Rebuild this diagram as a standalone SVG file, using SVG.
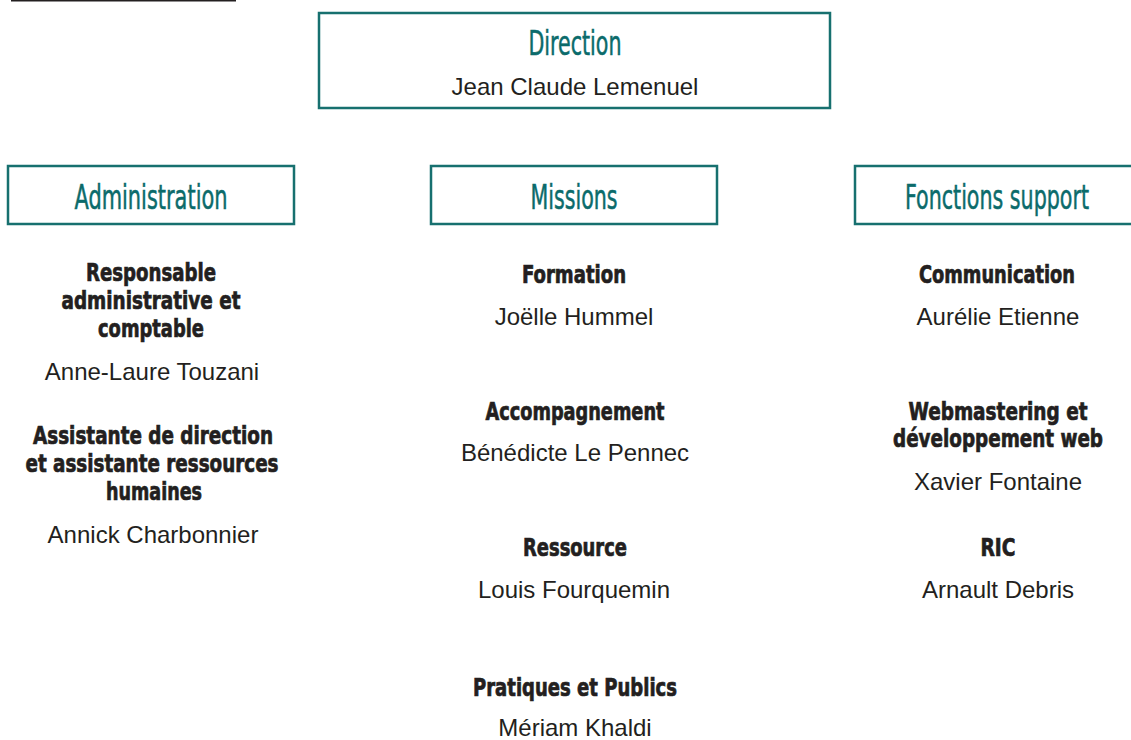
<svg xmlns="http://www.w3.org/2000/svg" width="1131" height="740" viewBox="0 0 1131 740">
<style>
.box{fill:#fff;stroke:#17706f;stroke-width:2.5}
.head{font-family:"DejaVu Sans Condensed","DejaVu Sans",sans-serif;font-stretch:condensed;font-size:33px;fill:#0b6b6b;stroke:#0b6b6b;stroke-width:0.5;text-anchor:middle}
.role{font-family:"DejaVu Sans Condensed","DejaVu Sans",sans-serif;font-stretch:condensed;font-weight:bold;font-size:25px;fill:#231f20;stroke:#231f20;stroke-width:0.7;text-anchor:middle}
.name{font-family:"Liberation Sans",Arial,sans-serif;font-size:24px;fill:#231f20;text-anchor:middle}
</style>
<rect width="1131" height="740" fill="#fff"/>
<line x1="11" y1="0.5" x2="236" y2="0.5" stroke="#231f20" stroke-width="2"/>
<g id="direction">
<rect class="box" x="319" y="13" width="511" height="95"/>
<text class="head" x="575" y="55" textLength="93" lengthAdjust="spacingAndGlyphs">Direction</text>
<text class="name" x="575" y="95">Jean Claude Lemenuel</text>
</g>
<g id="administration">
<rect class="box" x="8" y="166" width="286" height="58"/>
<text class="head" x="151" y="209" textLength="153" lengthAdjust="spacingAndGlyphs">Administration</text>
</g>
<g id="missions">
<rect class="box" x="431" y="166" width="286" height="58"/>
<text class="head" x="574" y="209" textLength="87" lengthAdjust="spacingAndGlyphs">Missions</text>
</g>
<g id="fonctions-support">
<rect class="box" x="855" y="166" width="290" height="58"/>
<text class="head" x="997" y="209" textLength="184" lengthAdjust="spacingAndGlyphs">Fonctions support</text>
</g>
<g id="resp-admin">
<text class="role" x="151" y="281" textLength="130" lengthAdjust="spacingAndGlyphs">Responsable</text>
<text class="role" x="151" y="309" textLength="179" lengthAdjust="spacingAndGlyphs">administrative et</text>
<text class="role" x="151" y="337" textLength="106" lengthAdjust="spacingAndGlyphs">comptable</text>
<text class="name" x="152" y="380">Anne-Laure Touzani</text>
</g>
<g id="assistante">
<text class="role" x="153" y="444" textLength="240" lengthAdjust="spacingAndGlyphs">Assistante de direction</text>
<text class="role" x="152" y="472" textLength="253" lengthAdjust="spacingAndGlyphs">et assistante ressources</text>
<text class="role" x="154" y="500" textLength="96" lengthAdjust="spacingAndGlyphs">humaines</text>
<text class="name" x="153" y="543">Annick Charbonnier</text>
</g>
<g id="formation">
<text class="role" x="574" y="283" textLength="104" lengthAdjust="spacingAndGlyphs">Formation</text>
<text class="name" x="574" y="325">Joëlle Hummel</text>
</g>
<g id="accompagnement">
<text class="role" x="575" y="420" textLength="179" lengthAdjust="spacingAndGlyphs">Accompagnement</text>
<text class="name" x="575" y="461">Bénédicte Le Pennec</text>
</g>
<g id="ressource">
<text class="role" x="575" y="556" textLength="104" lengthAdjust="spacingAndGlyphs">Ressource</text>
<text class="name" x="574" y="598">Louis Fourquemin</text>
</g>
<g id="pratiques">
<text class="role" x="575" y="696" textLength="204" lengthAdjust="spacingAndGlyphs">Pratiques et Publics</text>
<text class="name" x="575" y="736">Mériam Khaldi</text>
</g>
<g id="communication">
<text class="role" x="997" y="283" textLength="156" lengthAdjust="spacingAndGlyphs">Communication</text>
<text class="name" x="998" y="325">Aurélie Etienne</text>
</g>
<g id="webmastering">
<text class="role" x="998" y="420" textLength="179" lengthAdjust="spacingAndGlyphs">Webmastering et</text>
<text class="role" x="998" y="447" textLength="210" lengthAdjust="spacingAndGlyphs">développement web</text>
<text class="name" x="998" y="490">Xavier Fontaine</text>
</g>
<g id="ric">
<text class="role" x="998" y="556" textLength="35" lengthAdjust="spacingAndGlyphs">RIC</text>
<text class="name" x="998" y="598">Arnault Debris</text>
</g>
<g id="connectors"></g>
</svg>
